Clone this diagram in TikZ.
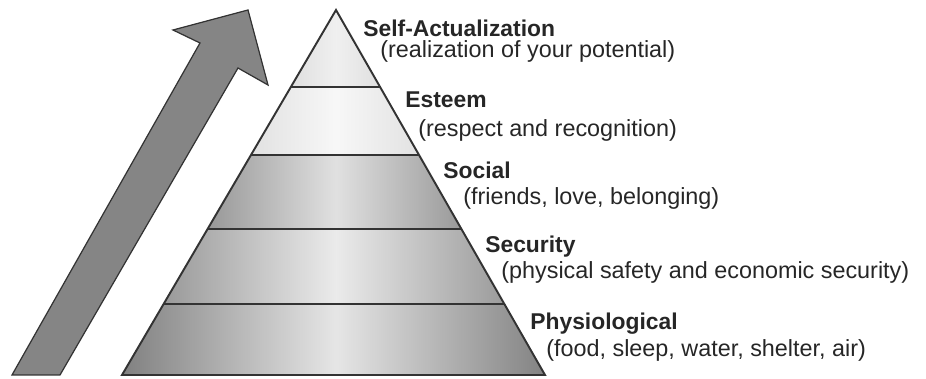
\documentclass[tikz,border=0pt]{standalone}
\usepackage{fontspec}
\setmainfont{Liberation Sans}
\begin{document}
\begin{tikzpicture}[scale=0.2,
  level/.style={anchor=base west,font=\fontsize{13}{15}\selectfont\bfseries,text=black!85},
  detail/.style={anchor=base west,font=\fontsize{13.3}{15}\selectfont,text=black!85},
  band/.style={draw=black!80,line width=1.1pt}]
\tikzstyle{every node}+=[inner sep=0pt]
\useasboundingbox (0,0) rectangle (92.6,-37.9);
\filldraw [fill=black!48,draw=black!80,line width=0.7pt,line join=miter] (1.2,-37.5) -- (20.0,-4.3) -- (17.3,-3.0) -- (24.8,-1.0) -- (26.8,-8.5) -- (23.8,-6.8) -- (6.0,-37.5) -- cycle;
\begin{scope}
\clip (33.6,-1.0) -- (12.2,-37.5) -- (54.5,-37.5) -- cycle;
\shade [left color=black!38,right color=black!38,middle color=black!6] (12,-1) rectangle (55.2,-8.7);
\shade [left color=black!25,right color=black!25,middle color=black!3] (12,-8.7) rectangle (55.2,-15.5);
\shade [left color=black!60,right color=black!60,middle color=black!12] (12,-15.5) rectangle (55.2,-22.9);
\shade [left color=black!48,right color=black!48,middle color=black!8] (12,-22.9) rectangle (55.2,-30.4);
\shade [left color=black!50,right color=black!50,middle color=black!10] (12,-30.4) rectangle (55.2,-37.5);
\draw [band] (12,-8.7) -- (55.2,-8.7);
\draw [band] (12,-15.5) -- (55.2,-15.5);
\draw [band] (12,-22.9) -- (55.2,-22.9);
\draw [band] (12,-30.4) -- (55.2,-30.4);
\end{scope}
\draw [band,line join=miter] (33.6,-1.0) -- (12.2,-37.5) -- (54.5,-37.5) -- cycle;
\draw (36.3,-3.7) node [level] (selfact) {Self-Actualization};
\draw (38.0,-5.8) node [detail] (selfactnote) {(realization of your potential)};
\draw (40.5,-10.8) node [level] (esteem) {Esteem};
\draw (41.8,-13.7) node [detail] (esteemnote) {(respect and recognition)};
\draw (44.3,-17.9) node [level] (social) {Social};
\draw (46.3,-20.5) node [detail] (socialnote) {(friends, love, belonging)};
\draw (48.5,-25.3) node [level] (security) {Security};
\draw (50.1,-27.9) node [detail] (securitynote) {(physical safety and economic security)};
\draw (53.0,-33.0) node [level] (physio) {Physiological};
\draw (54.6,-35.7) node [detail] (physionote) {(food, sleep, water, shelter, air)};
\end{tikzpicture}
\end{document}
